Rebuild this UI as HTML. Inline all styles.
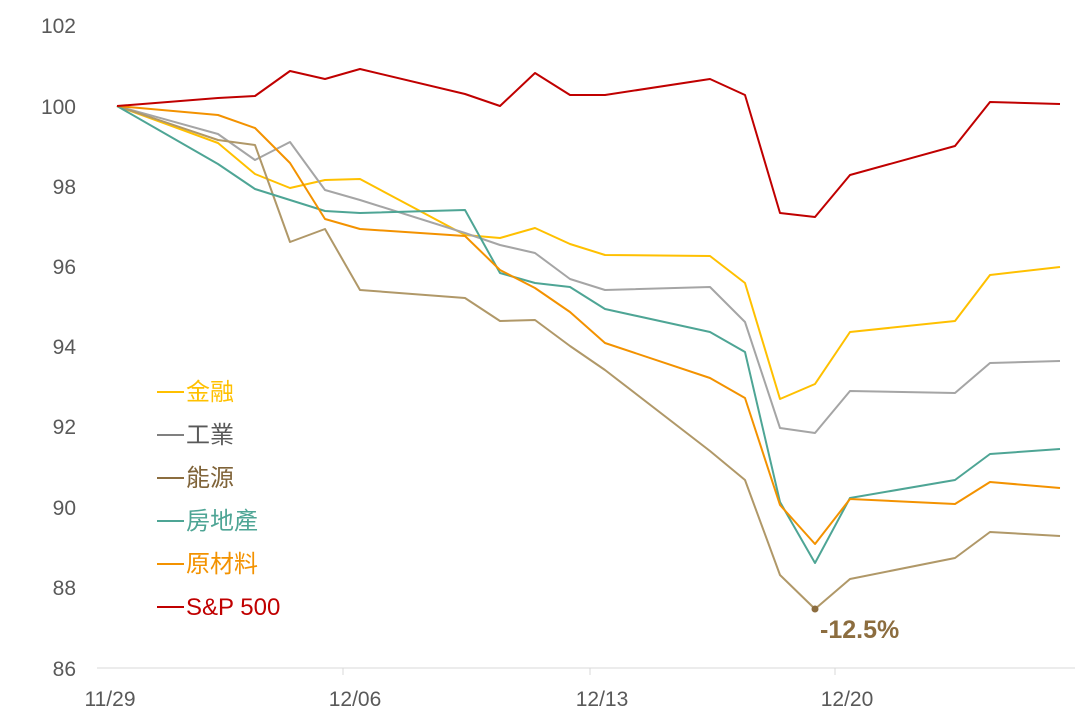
<!DOCTYPE html>
<html><head><meta charset="utf-8"><style>body{margin:0;background:#fff}svg{display:block}text{font-family:"Liberation Sans","Noto Sans CJK TC",sans-serif}</style></head><body>
<svg width="1077" height="718" viewBox="0 0 1077 718">
<g fill="#595959" font-size="21" text-anchor="end">
<text x="76" y="33">102</text><text x="76" y="114">100</text><text x="76" y="194">98</text><text x="76" y="274">96</text><text x="76" y="354">94</text><text x="76" y="434">92</text><text x="76" y="515">90</text><text x="76" y="595">88</text><text x="76" y="676">86</text>
</g>
<line x1="97" y1="668" x2="1075" y2="668" stroke="#d9d9d9" stroke-width="1"/>
<g stroke="#d9d9d9"><line x1="343" y1="668" x2="343" y2="675"/><line x1="590" y1="668" x2="590" y2="675"/><line x1="835" y1="668" x2="835" y2="675"/></g>
<g fill="#595959" font-size="21" text-anchor="middle">
<text x="110" y="706">11/29</text><text x="355" y="706">12/06</text><text x="602" y="706">12/13</text><text x="847" y="706">12/20</text>
</g>
<g fill="none" stroke-width="2" stroke-linejoin="round">
<polyline stroke="#ffc000" points="117,106 218,143 255,174 290,188 325,180 360,179 465,235 500,238 535,228 570,244 605,255 710,256 745,283 780,399 815,384 850,332 955,321 990,275 1060,267"/>
<polyline stroke="#a5a5a5" points="117,106 218,134 255,160 290,142 325,190 360,200 465,233 500,245 535,253 570,279 605,290 710,287 745,322 780,428 815,433 850,391 955,393 990,363 1060,361"/>
<polyline stroke="#b09868" points="117,106 218,140 255,145 290,242 325,229 360,290 465,298 500,321 535,320 570,346 605,370 710,451 745,480 780,575 815,609 850,579 955,558 990,532 1060,536"/>
<polyline stroke="#4ea595" points="117,106 218,164 255,189 290,200 325,211 360,213 465,210 500,273 535,283 570,287 605,309 710,332 745,352 780,502 815,563 850,498 955,480 990,454 1060,449"/>
<polyline stroke="#f39200" points="117,106 218,115 255,128 290,163 325,219 360,229 465,236 500,270 535,288 570,312 605,343 710,378 745,398 780,505 815,544 850,499 955,504 990,482 1060,488"/>
<polyline stroke="#c00000" points="117,106 218,98 255,96 290,71 325,79 360,69 465,94 500,106 535,73 570,95 605,95 710,79 745,95 780,213 815,217 850,175 955,146 990,102 1060,104"/>
</g>
<circle cx="815" cy="609" r="3.5" fill="#8c6d3f"/>
<text x="820" y="638" font-size="25" font-weight="bold" fill="#8c6d3f">-12.5%</text>
<g font-size="24" stroke-width="2">
<line x1="157" y1="392" x2="184" y2="392" stroke="#ffc000"/><text x="186" y="400" fill="#ffc000">金融</text>
<line x1="157" y1="435" x2="184" y2="435" stroke="#808080"/><text x="186" y="443" fill="#595959">工業</text>
<line x1="157" y1="478" x2="184" y2="478" stroke="#8c6d3f"/><text x="186" y="486" fill="#7f6338">能源</text>
<line x1="157" y1="521" x2="184" y2="521" stroke="#4ea595"/><text x="186" y="529" fill="#4ea595">房地產</text>
<line x1="157" y1="564" x2="184" y2="564" stroke="#f39200"/><text x="186" y="572" fill="#f39200">原材料</text>
<line x1="157" y1="607" x2="184" y2="607" stroke="#c00000"/><text x="186" y="615" fill="#c00000">S&amp;P 500</text>
</g>
</svg>
</body></html>
